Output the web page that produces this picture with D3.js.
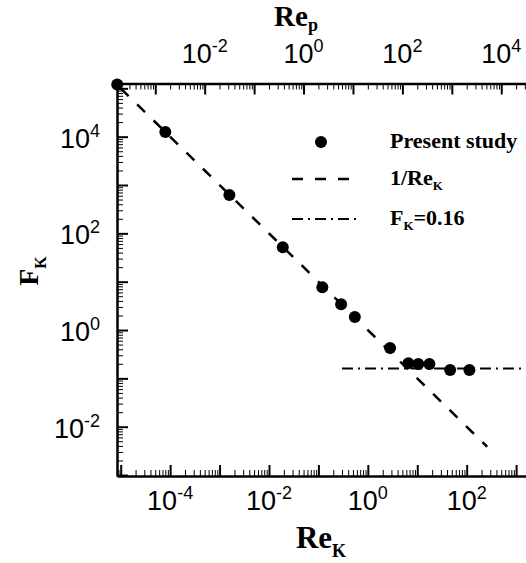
<!DOCTYPE html>
<html>
<head>
<meta charset="utf-8">
<script src="https://cdn.jsdelivr.net/npm/d3@7/dist/d3.min.js"></script>
<style>
  body { margin: 0; background: #fff; }
  svg { display: block; }
</style>
</head>
<body>
<div id="chart"></div>
<script>
// measured points (Re_K, F_K)
var reK = [8.5e-6, 8.0e-5, 1.58e-3, 0.019, 0.120, 0.288, 0.545, 2.82, 6.62, 10.5, 17.6, 46.3, 113.5];
var fK = [1.2e5, 1.25e4, 621, 51.4, 7.64, 3.40, 1.86, 0.424, 0.205, 0.198, 0.198, 0.149, 0.149];

// reference lines
var invLineRe = [1e-5, 260];
var constLineRe = [0.3, 3000];
var constF = 0.16;

// Re_p = repFactor * Re_K
var repFactor = 20;

var bottomLabels = [1e-4, 1e-2, 1e0, 1e2];
var topLabels = [1e-2, 1e0, 1e2, 1e4];
var leftLabels = [1e-2, 1e0, 1e2, 1e4];

var legendItems = ['Present study', '1/Re', 'F'];

var width = 526, height = 563;
var serif = '"Liberation Serif", "Times New Roman", serif';
var sans = '"Liberation Sans", Arial, sans-serif';

var svg = d3.select('#chart').append('svg')
    .attr('width', width)
    .attr('height', height);

var x = d3.scaleLog().domain([Math.pow(10, -5.075), Math.pow(10, 3.2)]).range([117, 526]);
var xTop = d3.scaleLog().domain(x.domain().map(function(d) { return d * repFactor; })).range(x.range());
var y = d3.scaleLog().domain([Math.pow(10, -3.02), Math.pow(10, 5.10)]).range([476, 83.5]);

function logTicks(scale, minor) {
    var dom = scale.domain();
    var lo = Math.floor(Math.log10(dom[0])), hi = Math.ceil(Math.log10(dom[1]));
    var out = [];
    for (var e = lo; e <= hi; e++) {
        if (minor) {
            for (var k = 2; k <= 9; k++) out.push(k * Math.pow(10, e));
        } else {
            out.push(Math.pow(10, e));
        }
    }
    return out.filter(function(v) { return v >= dom[0] * 0.999 && v <= dom[1] * 1.001; });
}

function drawAxis(axisFn, scale, translate) {
    var g = svg.append('g').attr('transform', translate);
    g.append('g').call(axisFn(scale).tickValues(logTicks(scale, true)).tickSizeInner(-6).tickSizeOuter(0).tickFormat(''))
        .call(function(s) { s.selectAll('.tick line').attr('stroke-width', 1); s.select('.domain').remove(); });
    g.append('g').call(axisFn(scale).tickValues(logTicks(scale, false)).tickSizeInner(-11).tickSizeOuter(0).tickFormat(''))
        .call(function(s) {
            s.selectAll('.tick line').attr('stroke-width', 2);
            s.select('.domain').attr('stroke-width', 2.5);
        });
    return g;
}

function powLabel(sel, v) {
    var e = Math.round(Math.log10(v));
    sel.append('tspan').text('10');
    sel.append('tspan').attr('font-size', 18).attr('dy', -11).text(String(e));
}

var gx = drawAxis(d3.axisBottom, x, 'translate(0,476)');
var gxt = drawAxis(d3.axisTop, xTop, 'translate(0,83.5)');
var gy = drawAxis(d3.axisLeft, y, 'translate(117,0)');

gx.selectAll('.labels').data(bottomLabels).enter().append('text')
    .attr('x', function(d) { return x(d); })
    .attr('y', 34)
    .attr('text-anchor', 'middle')
    .attr('font-family', sans).attr('font-size', 27)
    .each(function(d) { powLabel(d3.select(this), d); });

gxt.selectAll('.labels').data(topLabels).enter().append('text')
    .attr('x', function(d) { return xTop(d); })
    .attr('y', -20.5)
    .attr('text-anchor', 'middle')
    .attr('font-family', sans).attr('font-size', 27)
    .each(function(d) { powLabel(d3.select(this), d); });

gy.selectAll('.labels').data(leftLabels).enter().append('text')
    .attr('x', -17)
    .attr('y', function(d) { return y(d) + 11; })
    .attr('text-anchor', 'end')
    .attr('font-family', sans).attr('font-size', 27)
    .each(function(d) { powLabel(d3.select(this), d); });

// axis titles
function subTitle(t, main, sub, size, subSize, dy) {
    t.attr('font-family', serif).attr('font-weight', 'bold').attr('font-size', size);
    t.append('tspan').text(main);
    t.append('tspan').attr('font-size', subSize).attr('dy', dy).text(sub);
}
subTitle(svg.append('text').attr('x', 296).attr('y', 26).attr('text-anchor', 'middle'), 'Re', 'p', 29, 18, 5);
subTitle(svg.append('text').attr('x', 321).attr('y', 548).attr('text-anchor', 'middle'), 'Re', 'K', 31, 18, 9);
subTitle(svg.append('text').attr('transform', 'translate(38,271) rotate(-90)').attr('text-anchor', 'middle'), 'F', 'K', 28, 16, 8);

// 1/Re_K line
var line = d3.line().x(function(d) { return x(d[0]); }).y(function(d) { return y(d[1]); });
svg.append('path')
    .datum(invLineRe.map(function(r) { return [r, 1 / r]; }))
    .attr('d', line)
    .attr('fill', 'none').attr('stroke', '#000').attr('stroke-width', 2.5)
    .attr('stroke-dasharray', '11,12');

// F_K = 0.16 line
svg.append('path')
    .datum(constLineRe.map(function(r) { return [r, constF]; }))
    .attr('d', line)
    .attr('fill', 'none').attr('stroke', '#000').attr('stroke-width', 2)
    .attr('stroke-dasharray', '11,5,2,5');

// points
svg.selectAll('.pt').data(reK).enter().append('circle')
    .attr('cx', function(d) { return x(d); })
    .attr('cy', function(d, i) { return y(fK[i]); })
    .attr('r', 6)
    .attr('fill', '#000');

// legend
var lg = svg.append('g');
var rowY = [142, 179, 219];
lg.append('circle').attr('cx', 321).attr('cy', rowY[0]).attr('r', 6).attr('fill', '#000');
lg.append('line').attr('x1', 292).attr('x2', 350).attr('y1', rowY[1]).attr('y2', rowY[1])
    .attr('stroke', '#000').attr('stroke-width', 2.5).attr('stroke-dasharray', '11,12');
lg.append('line').attr('x1', 292).attr('x2', 356).attr('y1', rowY[2]).attr('y2', rowY[2])
    .attr('stroke', '#000').attr('stroke-width', 2).attr('stroke-dasharray', '11,5,2,5');

lg.append('text').attr('x', 390).attr('y', rowY[0] + 6)
    .attr('font-family', serif).attr('font-weight', 'bold').attr('font-size', 22)
    .text(legendItems[0]);
var t2 = lg.append('text').attr('x', 390).attr('y', rowY[1] + 6)
    .attr('font-family', serif).attr('font-weight', 'bold').attr('font-size', 22);
t2.append('tspan').text(legendItems[1]);
t2.append('tspan').attr('font-size', 13).attr('dy', 5).text('K');
var t3 = lg.append('text').attr('x', 390).attr('y', rowY[2] + 6)
    .attr('font-family', serif).attr('font-weight', 'bold').attr('font-size', 22);
t3.append('tspan').text(legendItems[2]);
t3.append('tspan').attr('font-size', 13).attr('dy', 5).text('K');
t3.append('tspan').attr('dy', -5).text('=' + constF);
</script>
</body>
</html>
